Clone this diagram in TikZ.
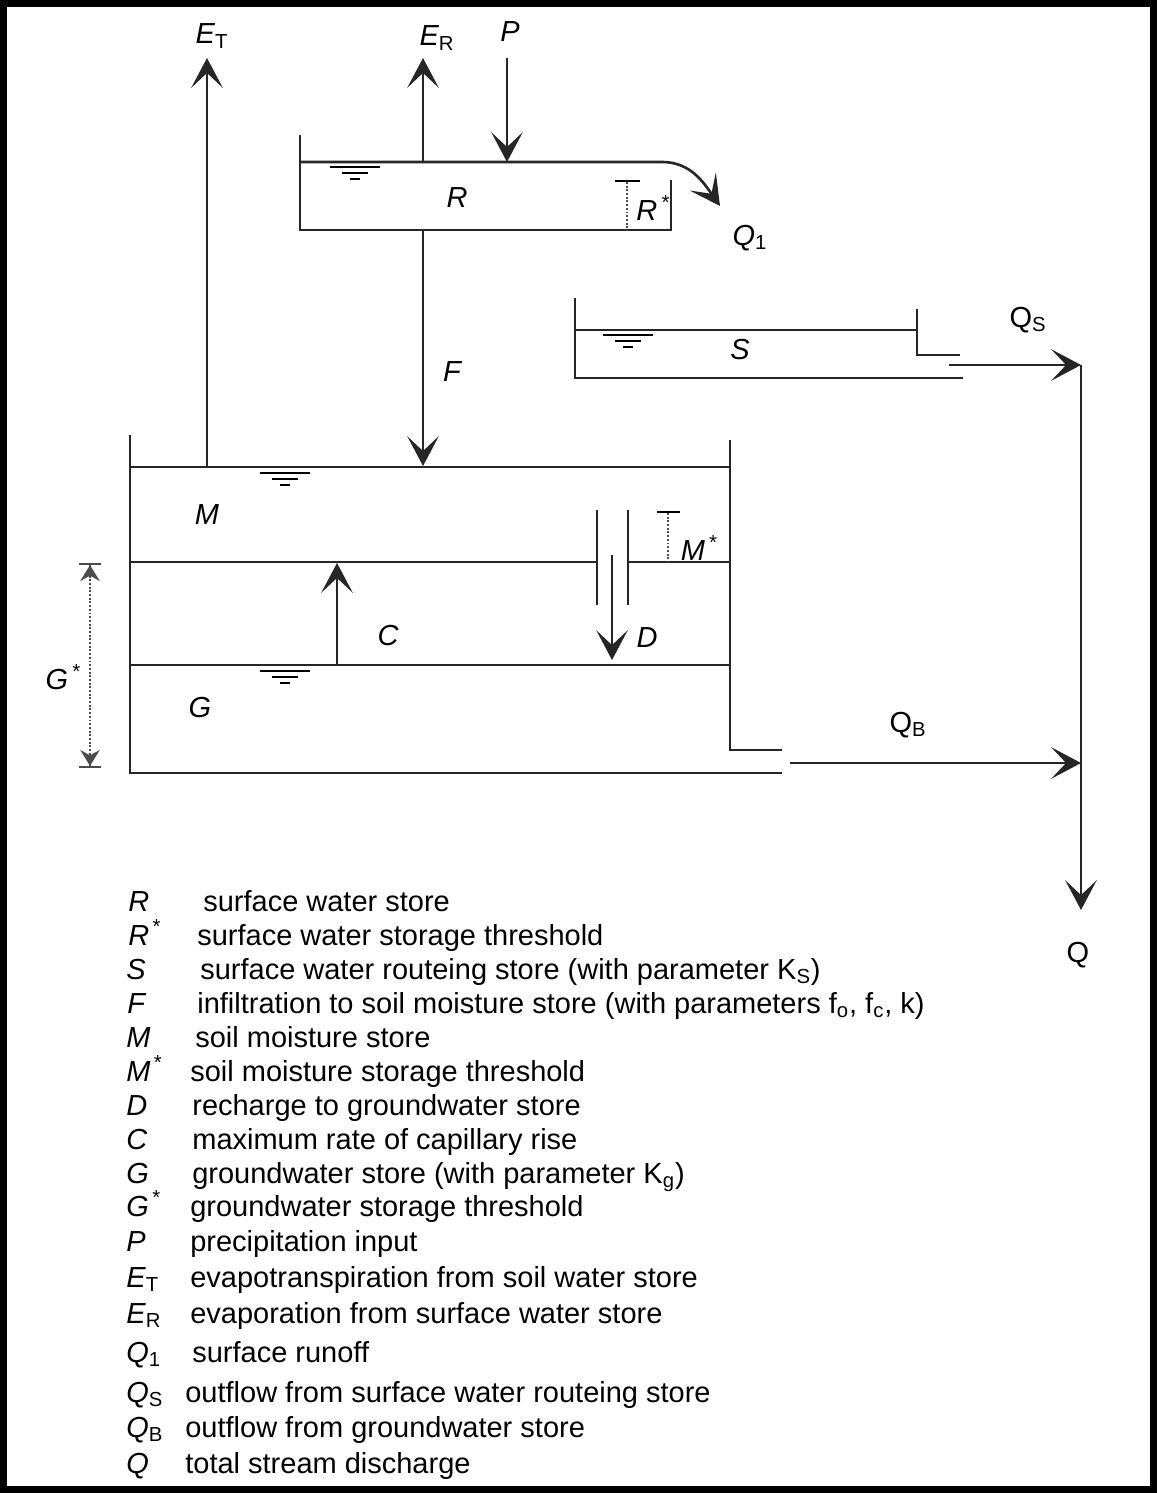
\documentclass[tikz,border=0pt]{standalone}
\usepackage{fontspec}
\setmainfont{Liberation Sans}
\usetikzlibrary{arrows.meta, positioning}

\newcommand{\flux}[2]{\textit{#1}\textsubscript{\textup{#2}}}
\newcommand{\thr}[1]{\textit{#1}\textsuperscript{\,*}}

\begin{document}
\begin{tikzpicture}[
  x=0.02cm, y=-0.02cm,
  wall/.style={line width=1.5pt, draw=black!85},
  flow/.style={line width=1.2pt, draw=black!85,
               -{Stealth[length=17pt, width=18pt, inset=8.5pt]}},
  thresh/.style={line width=1.1pt, densely dotted, draw=black!70},
  var/.style={inner sep=0pt, font=\fontsize{16.5}{20}\selectfont\itshape},
  qlab/.style={inner sep=0pt, font=\fontsize{16.5}{20}\selectfont\upshape},
  key/.style={inner sep=0pt, anchor=base west,
              font=\fontsize{16.5}{20}\selectfont},
  wlevel/.pic={
    \draw[line width=1pt] (-25,0) -- (25,0);
    \draw[line width=1pt] (-13,6) -- (13,6);
    \draw[line width=1pt] (-5,12) -- (5,12);
  }
]
\useasboundingbox (0,0) rectangle (1157,1493);
\draw[line width=4pt] (3.5,3.5) rectangle (1153.5,1489.5);

% Flow end points
\coordinate (etTop) at (207,58);
\coordinate (etBase) at (207,467);
\coordinate (erTop) at (423,58);
\coordinate (erBase) at (423,162);
\coordinate (pTop) at (507,58);
\coordinate (pBase) at (507,162);
\coordinate (rSpill) at (662,162);
\coordinate (qoneEnd) at (720,206);
\coordinate (fTop) at (423,230);
\coordinate (fEnd) at (423,466);
\coordinate (sOut) at (949,365);
\coordinate (qsEnd) at (1081,365);
\coordinate (gOut) at (790,763);
\coordinate (qbEnd) at (1081,763);
\coordinate (qEnd) at (1081,910);
\coordinate (cBase) at (337,665);
\coordinate (cTop) at (337,563);
\coordinate (dTop) at (612,555);
\coordinate (dEnd) at (612,660);

% Surface store R
\draw[wall] (300,135) -- (300,230) -- (671,230) -- (671,180);
\draw[wall, -{Stealth[length=17pt, width=18pt, inset=8.5pt]}]
  (300,162) -- (rSpill) to[out=0, in=125] (qoneEnd);
\pic at (355,167) {wlevel};
\draw[thresh] (627,182) -- (627,230);
\draw[line width=1pt] (615,181) -- (640,181);

% Routing store S
\draw[wall] (575,298) -- (575,378) -- (963,378);
\draw[wall] (575,330) -- (917,330);
\draw[wall] (917,309) -- (917,355) -- (960,355);
\pic at (628,335) {wlevel};

% Soil moisture and groundwater stores
\draw[wall] (130,435) -- (130,773) -- (782,773);
\draw[wall] (730,440) -- (730,750) -- (782,750);
\draw[wall] (130,467) -- (730,467);
\draw[wall] (130,562) -- (597,562);
\draw[wall] (628,562) -- (730,562);
\draw[wall] (130,665) -- (730,665);
\draw[wall] (597,510) -- (597,605);
\draw[wall] (628,510) -- (628,605);
\pic at (285,473) {wlevel};
\pic at (285,671) {wlevel};
\draw[thresh] (668,513) -- (668,562);
\draw[line width=1pt] (657,512) -- (680,512);
\draw[thresh, {Bar[width=13pt, line width=1.2pt]Stealth[length=9pt, width=11pt, inset=3pt]}-{Stealth[length=9pt, width=11pt, inset=3pt]Bar[width=13pt, line width=1.2pt]}]
  (90,563) -- (90,768);

% Flows
\draw[flow] (etBase) -- (etTop);
\draw[flow] (erBase) -- (erTop);
\draw[flow] (pTop) -- (pBase);
\draw[flow] (fTop) -- (fEnd);
\draw[flow] (sOut) -- (qsEnd);
\draw[flow] (gOut) -- (qbEnd);
\draw[flow] (qsEnd) -- (qEnd);
\draw[flow] (cBase) -- (cTop);
\draw[flow] (dTop) -- (dEnd);

% Labels
\node[var] (lblET) at (212,36) {\flux{E}{T}};
\node[var] (lblER) at (437,38) {\flux{E}{R}};
\node[var] (lblP) at (510,32) {P};
\node[var] (lblR) at (457,198) {R};
\node[var] (lblRs) at (653,208) {\thr{R}};
\node[var] (lblQone) at (750,238) {\flux{Q}{1}};
\node[var] (lblS) at (740,350) {S};
\node[qlab] (lblQS) at (1028,320) {Q\textsubscript{S}};
\node[var] (lblF) at (452,372) {F};
\node[var] (lblM) at (207,515) {M};
\node[var] (lblMs) at (699,548) {\thr{M}};
\node[var] (lblC) at (388,636) {C};
\node[var] (lblD) at (647,638) {D};
\node[var] (lblGs) at (63,677) {\thr{G}};
\node[var] (lblG) at (200,708) {G};
\node[qlab] (lblQB) at (908,725) {Q\textsubscript{B}};
\node[qlab] (lblQ) at (1078,955) {Q};

% Key
\node[key] (symR) at (128,911) {\textit{R}};
\node[key] (txtR) at (203,911) {surface water store};
\node[key] (symRs) at (128,945) {\thr{R}};
\node[key] (txtRs) at (197,945) {surface water storage threshold};
\node[key] (symS) at (126,979) {\textit{S}};
\node[key] (txtS) at (200,979) {surface water routeing store (with parameter K\textsubscript{S})};
\node[key] (symF) at (127,1013) {\textit{F}};
\node[key] (txtF) at (197,1013) {infiltration to soil moisture store (with parameters f\textsubscript{o}, f\textsubscript{c}, k)};
\node[key] (symM) at (126,1047) {\textit{M}};
\node[key] (txtM) at (195,1047) {soil moisture store};
\node[key] (symMs) at (126,1081) {\thr{M}};
\node[key] (txtMs) at (190,1081) {soil moisture storage threshold};
\node[key] (symD) at (126,1115) {\textit{D}};
\node[key] (txtD) at (192,1115) {recharge to groundwater store};
\node[key] (symC) at (126,1149) {\textit{C}};
\node[key] (txtC) at (192,1149) {maximum rate of capillary rise};
\node[key] (symG) at (126,1183) {\textit{G}};
\node[key] (txtG) at (192,1183) {groundwater store (with parameter K\textsubscript{g})};
\node[key] (symGs) at (126,1216) {\thr{G}};
\node[key] (txtGs) at (190,1216) {groundwater storage threshold};
\node[key] (symP) at (126,1251) {\textit{P}};
\node[key] (txtP) at (190,1251) {precipitation input};
\node[key] (symET) at (126,1287) {\flux{E}{T}};
\node[key] (txtET) at (190,1287) {evapotranspiration from soil water store};
\node[key] (symER) at (126,1323) {\flux{E}{R}};
\node[key] (txtER) at (190,1323) {evaporation from surface water store};
\node[key] (symQone) at (126,1362) {\flux{Q}{1}};
\node[key] (txtQone) at (192,1362) {surface runoff};
\node[key] (symQS) at (126,1402) {\flux{Q}{S}};
\node[key] (txtQS) at (185,1402) {outflow from surface water routeing store};
\node[key] (symQB) at (126,1437) {\flux{Q}{B}};
\node[key] (txtQB) at (185,1437) {outflow from groundwater store};
\node[key] (symQ) at (126,1473) {\textit{Q}};
\node[key] (txtQ) at (185,1473) {total stream discharge};
\end{tikzpicture}
\end{document}
